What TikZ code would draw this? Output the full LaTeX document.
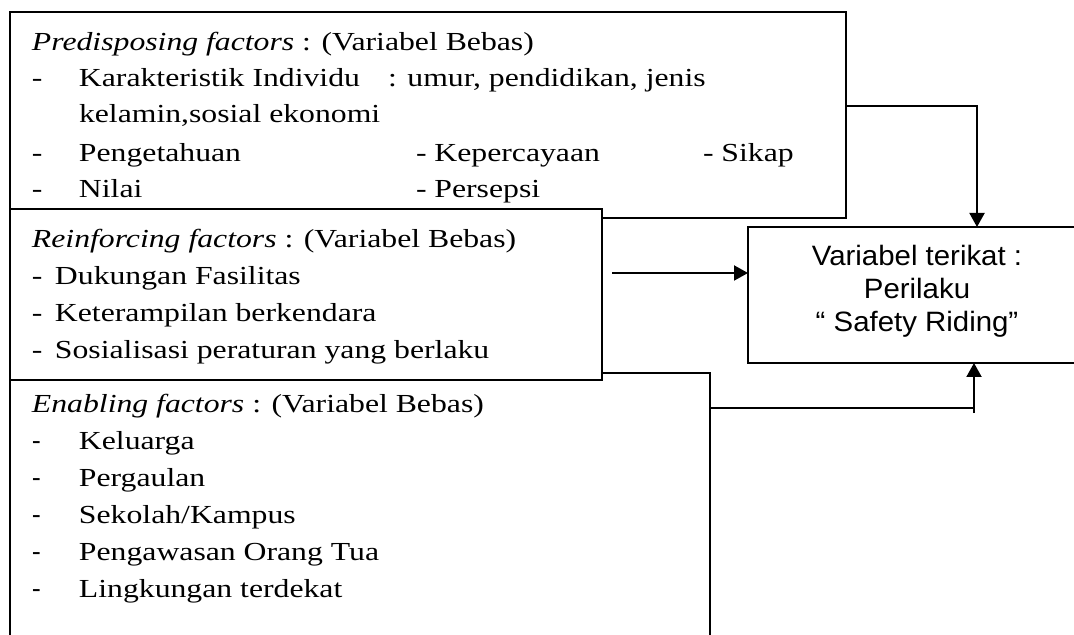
\documentclass[tikz,border=0pt]{standalone}
\usepackage{fontspec}
\setmainfont{Liberation Serif}[FakeStretch=1.22]
\setsansfont{Liberation Sans}[FakeStretch=1.05]
\usetikzlibrary{arrows.meta}
\newcommand{\itemdash}[2]{\makebox[#1][l]{-}#2}
\newcommand{\itemsdash}[1]{\makebox[23.5pt][l]{\textsf{-}}#1}

\begin{document}
\begin{tikzpicture}[x=0.5pt, y=-0.5pt,
		every node/.style={inner sep=0pt, outer sep=0pt},
		box/.style={draw, line width=1pt, fill=white, anchor=north west},
		txt/.style={anchor=base west, font=\fontsize{13}{15}\selectfont},
		arr/.style={line width=1pt, -{Triangle[length=7pt,width=7.5pt]}}]
	\useasboundingbox (0,0) rectangle (1074,635);
	\clip (0,0) rectangle (1074,635);
	
	% kotak variabel
	\node[box, minimum width=418pt, minimum height=103pt] (predisposing) at (10,12) {};
	\node[box, minimum width=350pt, minimum height=150pt] (enabling) at (10,373) {};
	\node[box, minimum width=296pt, minimum height=85.5pt] (reinforcing) at (10,209) {};
	\node[box, minimum width=169pt, minimum height=68pt, align=center,
		font=\sffamily\fontsize{14}{16.5}\selectfont] (perilaku) at (748,227)
		{Variabel terikat :\\Perilaku\\“ Safety Riding”\rule[-7pt]{0pt}{7pt}};
	
	% predisposing
	\node[txt] (p0) at (32,51) {\textit{Predisposing factors} : (Variabel Bebas)};
	\node[txt] (p1) at (32,87) {\itemdash{23.5pt}{\makebox[154.5pt][l]{Karakteristik Individu}: umur, pendidikan, jenis}};
	\node[txt] (p2) at (79,123) {kelamin,sosial ekonomi};
	\node[txt] (p3) at (32,162) {\itemdash{23.5pt}{\makebox[168.5pt][l]{Pengetahuan}\makebox[143.5pt][l]{- Kepercayaan}- Sikap}};
	\node[txt] (p4) at (32,198) {\itemdash{23.5pt}{\makebox[168.5pt][l]{Nilai}- Persepsi}};
	
	% reinforcing
	\node[txt] (r0) at (32,248) {\textit{Reinforcing factors} : (Variabel Bebas)};
	\foreach \t [count=\i] in {Dukungan Fasilitas, Keterampilan berkendara, Sosialisasi peraturan yang berlaku}
		\node[txt] (r\i) at (32,248+36.7*\i) {\itemdash{11.5pt}{\t}};
	
	% enabling
	\node[txt] (e0) at (32,413) {\textit{Enabling factors} : (Variabel Bebas)};
	\foreach \t [count=\i] in {Keluarga, Pergaulan, Sekolah/Kampus, Pengawasan Orang Tua, Lingkungan terdekat}
		\node[txt] (e\i) at (32,413+36.8*\i) {\itemsdash{\t}};
	
	% panah
	\coordinate (rin) at ([xshift=5pt,yshift=10.75pt]reinforcing.east);
	\coordinate (ein) at ([yshift=-17.5pt]enabling.north east);
	\coordinate (estub) at ([xshift=28.5pt,yshift=-25pt]perilaku.south);
	\draw[arr] ([yshift=4.5pt]predisposing.east) -| ([xshift=30pt]perilaku.north);
	\draw[arr] (rin) -- (rin -| perilaku.west);
	\draw[line width=1pt] (ein) -- (ein -| estub);
	\draw[arr] (estub) -- ([xshift=28.5pt]perilaku.south);
\end{tikzpicture}
\end{document}
